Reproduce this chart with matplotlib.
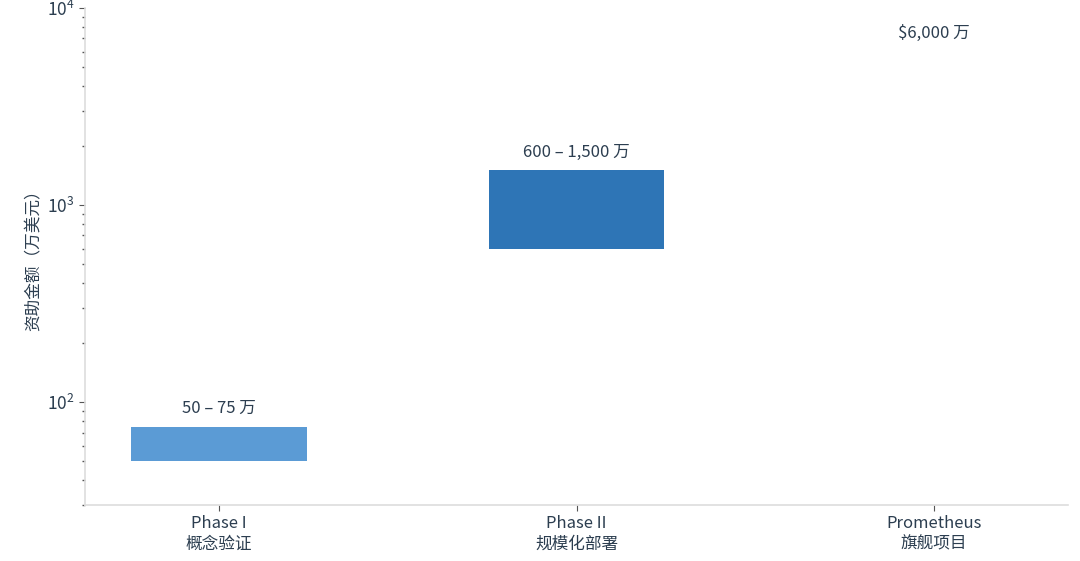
import matplotlib.pyplot as plt
import numpy as np
from matplotlib.ticker import LogLocator, NullFormatter

plt.rcParams['font.family'] = ['Noto Sans CJK SC', 'DejaVu Sans']

# funding ranges, in 万美元
phases = ['Phase I\n概念验证', 'Phase II\n规模化部署', 'Prometheus\n旗舰项目']
lows = [50, 600, 6000]
highs = [75, 1500, 6000]
labels = ['50 – 75 万', '600 – 1,500 万', '$6,000 万']
colors = ['#5b9bd5', '#2e75b6', '#1f4e79']

text_color = '#2c3e50'

fig = plt.figure(figsize=(10.8, 5.61), dpi=100)
ax = fig.add_axes([0.0787, 0.0998, 0.9103, 0.886])

x = np.arange(len(phases))
heights = [h - l for l, h in zip(lows, highs)]
ax.bar(x, heights, bottom=lows, width=0.49, color=colors, edgecolor='none')

for i in range(len(phases)):
    ax.annotate(labels[i], xy=(x[i], highs[i]), xytext=(0, 7),
                textcoords='offset points', ha='center', va='bottom',
                fontsize=12, color=text_color)

ax.set_yscale('log')
ax.set_ylim(30, 10000)
ax.set_xlim(-0.375, 2.375)
ax.yaxis.set_minor_locator(LogLocator(base=10, subs=np.arange(2, 10)))
ax.yaxis.set_minor_formatter(NullFormatter())

ax.set_xticks(x)
ax.set_xticklabels(phases, fontsize=12, color=text_color, linespacing=1.25)
ax.tick_params(axis='y', labelsize=12.5, labelcolor=text_color, color='#555555',
               length=4, width=0.8)
ax.tick_params(axis='y', which='minor', length=2.5, width=1, color='#555555')
ax.tick_params(axis='x', length=4, width=0.8, color='#555555')

ax.set_ylabel('资助金额（万美元）', fontsize=12, color=text_color, labelpad=3)

for side in ['top', 'right']:
    ax.spines[side].set_visible(False)
for side in ['left', 'bottom']:
    ax.spines[side].set_color('#dddddd')
    ax.spines[side].set_linewidth(1.2)

fig.savefig('out.png', dpi=100, facecolor='white')
